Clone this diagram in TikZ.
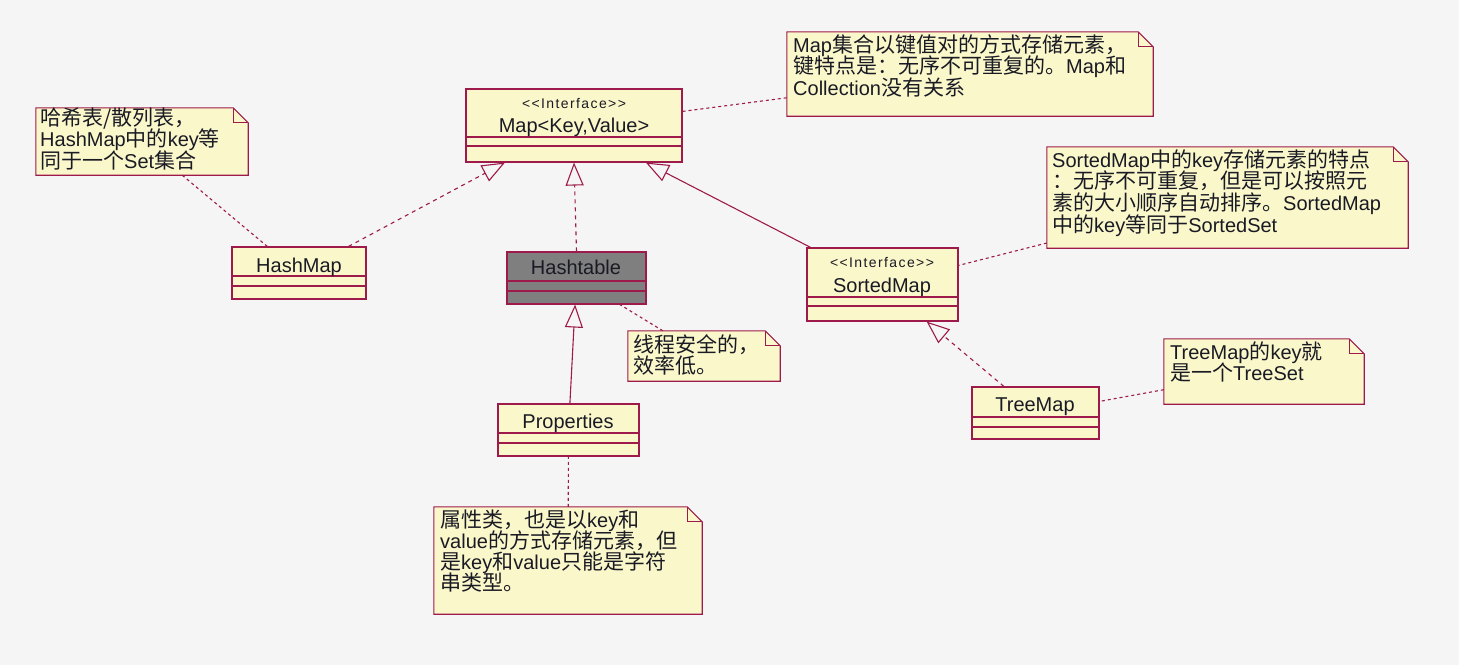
\documentclass[tikz,border=0pt]{standalone}
\usepackage{fontspec}
\setmainfont{Liberation Sans}
\newfontfamily\cj{Noto Sans CJK SC}[Scale=1.05]
\newfontfamily\stereo{Liberation Sans}[LetterSpace=10]
\usetikzlibrary{arrows.meta}
\definecolor{bg}{HTML}{F5F5F5}
\definecolor{edge}{HTML}{9E1A4A}
\definecolor{paper}{HTML}{FAF8CB}
\definecolor{ink}{HTML}{1A1A24}
\definecolor{shade}{HTML}{7F7F7F}
\newcommand\notelines[2]{\vtop{\baselineskip=#1\lineskiplimit=-20pt\lineskip=0pt #2}}
\newcommand\drawnote[1]{%
  \draw[noteshape] (#1.north west) -- ([xshift=-15pt]#1.north east) -- ([yshift=-15pt]#1.north east) -- (#1.south east) -- (#1.south west) -- cycle;
  \draw[thinedge] ([xshift=-15pt]#1.north east) -- ([xshift=-15pt,yshift=-15pt]#1.north east) -- ([yshift=-15pt]#1.north east);}
\begin{document}
\begin{tikzpicture}[x=1pt,y=-1pt,
  classbox/.style={draw=edge, fill=paper, line width=1.1pt, inner sep=0pt, rectangle},
  noteframe/.style={draw=none, inner sep=0pt, rectangle},
  noteshape/.style={draw=edge, fill=paper, line width=1.1pt, line join=miter},
  thinedge/.style={draw=edge, line width=1.1pt},
  txt/.style={text=ink, inner sep=0pt, font=\fontsize{20}{22}\selectfont},
  stereotype/.style={text=ink, inner sep=0pt, font=\stereo\fontsize{14}{16}\selectfont},
  generalize/.style={draw=edge, line width=1.1pt, -{Triangle[open, length=23pt, width=18pt]}},
  realize/.style={generalize, dash pattern=on 4pt off 4pt},
  notelink/.style={draw=edge, line width=1.1pt, dash pattern=on 3pt off 3pt}]
\fill[bg] (0,0) rectangle (1459,665);
\useasboundingbox (0,0) rectangle (1459,665);

% ---------- classes ----------
\node[classbox, minimum width=216pt, minimum height=73pt] (map) at (574,125.5) {};
\draw[thinedge] (map.west |- 0,137) -- (map.east |- 0,137);
\draw[thinedge] (map.west |- 0,146) -- (map.east |- 0,146);
\node[stereotype, anchor=base] (mapst) at (574,108) {<<Interface>>};
\node[txt, anchor=base] (mapname) at (574,132) {Map<Key,Value>};

\node[classbox, minimum width=134pt, minimum height=52pt] (hashmap) at (299,273) {};
\draw[thinedge] (hashmap.west |- 0,276) -- (hashmap.east |- 0,276);
\draw[thinedge] (hashmap.west |- 0,286) -- (hashmap.east |- 0,286);
\node[txt, anchor=base] (hashmapname) at (299,272) {HashMap};

\node[classbox, fill=shade, minimum width=139pt, minimum height=52pt] (hashtable) at (576.5,278) {};
\draw[thinedge] (hashtable.west |- 0,281) -- (hashtable.east |- 0,281);
\draw[thinedge] (hashtable.west |- 0,291) -- (hashtable.east |- 0,291);
\node[txt, anchor=base] (hashtablename) at (576,274) {Hashtable};

\node[classbox, minimum width=151pt, minimum height=73pt] (sortedmap) at (882.5,284.5) {};
\draw[thinedge] (sortedmap.west |- 0,297) -- (sortedmap.east |- 0,297);
\draw[thinedge] (sortedmap.west |- 0,306) -- (sortedmap.east |- 0,306);
\node[stereotype, anchor=base] (sortedst) at (882,267) {<<Interface>>};
\node[txt, anchor=base] (sortedname) at (882,292) {SortedMap};

\node[classbox, minimum width=127pt, minimum height=52pt] (treemap) at (1035.5,413) {};
\draw[thinedge] (treemap.west |- 0,417) -- (treemap.east |- 0,417);
\draw[thinedge] (treemap.west |- 0,427) -- (treemap.east |- 0,427);
\node[txt, anchor=base] (treemapname) at (1035,411) {TreeMap};

\node[classbox, minimum width=141pt, minimum height=52pt] (properties) at (568.5,430) {};
\draw[thinedge] (properties.west |- 0,433) -- (properties.east |- 0,433);
\draw[thinedge] (properties.west |- 0,443) -- (properties.east |- 0,443);
\node[txt, anchor=base] (propname) at (568,428) {Properties};

% ---------- notes ----------
\node[noteframe, minimum width=366pt, minimum height=84pt] (mapnote) at (970,74) {};
\drawnote{mapnote}
\node[txt, anchor=base west] (mapnotetext) at (793,52) {\notelines{21.7pt}{%
  \hbox{Map{\cj 集合以键值对的方式存储元素，}}
  \hbox{{\cj 键特点是：无序不可重复的。}Map{\cj 和}}
  \hbox{Collection{\cj 没有关系}}}};

\node[noteframe, minimum width=212pt, minimum height=67pt] (hashnote) at (142,141.5) {};
\drawnote{hashnote}
\node[txt, anchor=base west] (hashnotetext) at (40,125) {\notelines{21.7pt}{%
  \hbox{{\cj 哈希表/散列表，}}
  \hbox{HashMap{\cj 中的}key{\cj 等}}
  \hbox{{\cj 同于一个}Set{\cj 集合}}}};

\node[noteframe, minimum width=152pt, minimum height=50pt] (threadnote) at (704,356) {};
\drawnote{threadnote}
\node[txt, anchor=base west] (threadnotetext) at (633,352) {\notelines{21.7pt}{%
  \hbox{{\cj 线程安全的，}}
  \hbox{{\cj 效率低。}}}};

\node[noteframe, minimum width=361pt, minimum height=101pt] (sortednote) at (1227.5,197.5) {};
\drawnote{sortednote}
\node[txt, anchor=base west] (sortednotetext) at (1052,167) {\notelines{21.7pt}{%
  \hbox{SortedMap{\cj 中的}key{\cj 存储元素的特点}}
  \hbox{{\cj ：无序不可重复，但是可以按照元}}
  \hbox{{\cj 素的大小顺序自动排序。}SortedMap}
  \hbox{{\cj 中的}key{\cj 等同于}SortedSet}}};

\node[noteframe, minimum width=200pt, minimum height=65pt] (treenote) at (1264,371.5) {};
\drawnote{treenote}
\node[txt, anchor=base west] (treenotetext) at (1170,359) {\notelines{21.7pt}{%
  \hbox{TreeMap{\cj 的}key{\cj 就}}
  \hbox{{\cj 是一个}TreeSet}}};

\node[noteframe, minimum width=268pt, minimum height=107pt] (propnote) at (568,560.5) {};
\drawnote{propnote}
\node[txt, anchor=base west] (propnotetext) at (440,527) {\notelines{21pt}{%
  \hbox{{\cj 属性类，也是以}key{\cj 和}}
  \hbox{value{\cj 的方式存储元素，但}}
  \hbox{{\cj 是}key{\cj 和}value{\cj 只能是字符}}
  \hbox{{\cj 串类型。}}}};

% ---------- relations ----------
\draw[realize] (hashmap) -- (map);
\draw[realize] (hashtable.north) -- (map.south);
\draw[generalize] (sortedmap) -- (map);
\draw[generalize] (properties) -- (hashtable);
\draw[realize] (treemap) -- (sortedmap);

% ---------- note links ----------
\draw[notelink] (map) -- (mapnote);
\draw[notelink] (hashnote) -- (hashmap);
\draw[notelink] (threadnote) -- (hashtable);
\draw[notelink] (sortednote) -- (sortedmap);
\draw[notelink] (treenote) -- (treemap);
\draw[notelink] (propnote) -- (properties);
\end{tikzpicture}
\end{document}
